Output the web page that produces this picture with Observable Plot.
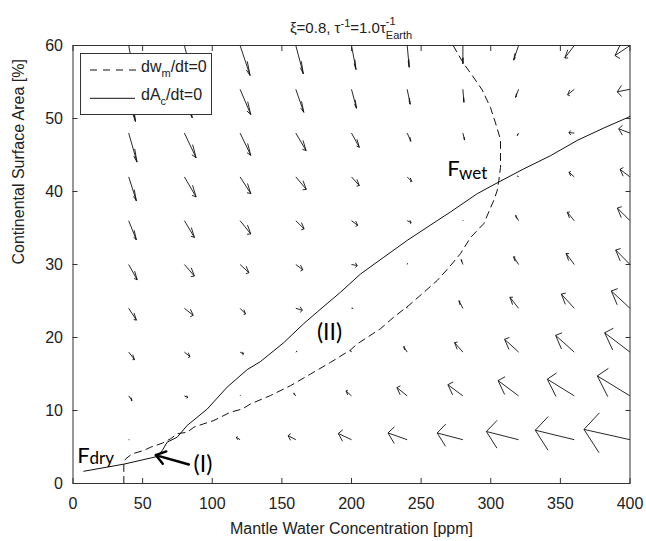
<!DOCTYPE html>
<html>
<head>
<meta charset="utf-8">
<script src="https://cdn.jsdelivr.net/npm/d3@7"></script>
<script src="https://cdn.jsdelivr.net/npm/@observablehq/plot@0.6"></script>
<style>
  html, body { margin: 0; padding: 0; background: #fff; }
  #wrap { position: relative; width: 646px; height: 541px; font-family: "Liberation Sans", Arial, Helvetica, sans-serif; color: #222; }
  #title { position: absolute; left: 72px; width: 558px; top: 19px; text-align: center; font-size: 15px; line-height: 18px; z-index: 2; }
  #title sup { font-size: 11px; vertical-align: 0; position: relative; top: -0.55em; }
  .stack { display: inline-block; position: relative; font-size: 11px; }
  .stack .up { position: absolute; left: 0; top: -0.75em; }
  .stack .down { position: relative; top: 0.5em; }
  #legend { position: absolute; left: 80px; top: 53px; z-index: 2; }
</style>
</head>
<body>
<div id="wrap">
  <div id="title">ξ=0.8, τ<sup>-1</sup>=1.0τ<span class="stack"><span class="up">-1</span><span class="down">Earth</span></span></div>
  <div id="chart"></div>
  <svg id="legend" width="133" height="63" font-family="Liberation Sans, Arial, sans-serif">
    <rect x="0.5" y="0.5" width="131" height="61" fill="#fff" stroke="#333"/>
    <line x1="10" x2="57" y1="17" y2="17" stroke="#111" stroke-dasharray="7,6"/>
    <text x="61" y="19" font-size="16" fill="#222">dw<tspan font-size="11" dy="5">m</tspan><tspan dy="-5">/dt=0</tspan></text>
    <line x1="10" x2="55" y1="45.3" y2="45.3" stroke="#111"/>
    <text x="61" y="47" font-size="16" fill="#222">dA<tspan font-size="11" dy="5">c</tspan><tspan dy="-5">/dt=0</tspan></text>
  </svg>
</div>
<script>
// ---- quiver grid (mantle water ppm, continental area %) ----
const gridX = [40, 80, 120, 160, 200, 240, 280, 320, 360, 400];
const gridY = [60, 54, 48, 42, 36, 30, 24, 18, 12, 6];
// x-components (ppm), one row per gridY value
const U = [
  [4.67, 5.74, 7.18, 5.39, 3.23, 1.44, 0, -3.59, -6.82, -10.77],
  [4.88, 5.60, 7.68, 5.74, 3.59, 2.15, 0.72, -2.15, -4.81, -9.12],
  [5.96, 8.40, 7.68, 7.40, 5.60, 2.66, 1.22, -0.93, -3.81, -8.11],
  [5.53, 8.40, 7.68, 7.54, 5.60, 3.23, 0.72, -0.72, -3.81, -7.18],
  [5.53, 7.18, 7.68, 5.96, 4.45, 2.87, 0.22, -2.15, -5.03, -9.12],
  [6.10, 7.18, 6.32, 5.03, 4.09, 0.22, -1.22, -3.59, -5.89, -10.27],
  [5.53, 6.32, 3.95, 4.67, 0.93, -0.36, -2.87, -6.25, -9.34, -13.43],
  [4.17, 4.02, 2.51, 0.72, -0.72, -2.51, -5.96, -10.05, -13.43, -18.17],
  [2.37, 2.37, 0.22, -1.44, -3.95, -7.40, -10.77, -14.72, -19.39, -23.48],
  [0.36, 0, -2.66, -5.53, -9.48, -13.79, -18.46, -23.12, -28.01, -33.03]
];
// y-components (%), one row per gridY value
const V = [
  [-4.66, -4.25, -4.11, -3.88, -3.29, -2.97, -2.51, -2.01, -1.71, -1.37],
  [-4.41, -3.90, -3.47, -3.15, -2.60, -2.05, -1.78, -1.10, -0.75, -0.34],
  [-3.97, -3.38, -3.05, -2.40, -1.95, -1.12, -0.96, -0.32, 0.07, 0.59],
  [-3.29, -2.74, -2.29, -1.71, -1.19, -0.62, -0.41, 0.14, 0.64, 1.03],
  [-2.64, -2.29, -1.82, -1.12, -0.64, -0.27, 0.07, 0.71, 1.16, 1.74],
  [-2.10, -1.58, -1.12, -0.73, -0.14, 0.14, 0.68, 1.07, 1.51, 1.99],
  [-1.62, -0.96, -0.78, -0.27, 0, 0.14, 1.03, 1.51, 1.96, 2.37],
  [-1.03, -0.62, -0.27, 0.10, 0.21, 0.75, 1.30, 1.75, 2.29, 2.64],
  [-0.62, -0.22, 0.07, 0.37, 0.68, 1.14, 1.53, 2.10, 2.29, 2.74],
  [-0.04, 0, 0.32, 0.55, 0.85, 0.93, 0.92, 1.12, 1.30, 1.41]
];

// ---- nullclines ----
const dwX = [36.5, 36.5, 38, 42.5, 50.8, 55.7, 64.1, 70, 74.8, 82, 86.8, 93.9, 101.1, 105.9, 113.1, 121.5, 127.5, 141.8, 156.2, 170.6, 185, 199.3, 204, 220.8, 230.4, 241.2, 250.8, 261.5, 270, 278.3, 285.5, 295, 298.6, 302.2, 304.6, 305.8, 307, 307, 303.4, 299.8, 293.9, 286.7, 280.6, 276, 273];
const dwY = [0, 3.0, 3.4, 4.07, 4.52, 4.97, 5.52, 6.12, 6.81, 7.03, 7.71, 8.18, 8.63, 9.08, 9.77, 10.2, 10.9, 12.05, 13.4, 15.0, 16.6, 18.3, 19.1, 21.2, 22.8, 24.4, 26.0, 27.8, 29.6, 31.5, 33.7, 35.6, 37.2, 38.8, 40.1, 41.5, 43.3, 47.1, 49.4, 51.5, 53.9, 55.9, 57.5, 59, 60];
const dAX = [7.8, 36.5, 60.5, 64.1, 67.6, 74.8, 82, 96.4, 110.7, 125.1, 134.6, 151.4, 165.7, 175.4, 192.1, 206.5, 223.2, 240, 261.5, 271.1, 290.3, 305.8, 323.7, 342.9, 362.1, 381.2, 398, 400];
const dAY = [1.68, 2.65, 3.7, 4.52, 5.66, 6.34, 7.95, 10.2, 13.2, 15.6, 16.7, 19.3, 21.9, 23.5, 26.2, 28.7, 31.0, 33.3, 36.0, 37.2, 39.7, 41.3, 43.1, 44.9, 47.0, 48.7, 50.1, 50.3];

// ---- axes ----
const xTicks = [0, 50, 100, 150, 200, 250, 300, 350, 400];
const yTicks = [0, 10, 20, 30, 40, 50, 60];
const xLabel = "Mantle Water Concentration [ppm]";
const yLabel = "Continental Surface Area [%]";

// ---- annotations (data coordinates) ----
const fixedPointLabels = [
  {text: "F", x: 3.0, y: 3.84, size: 22},
  {text: "dry", x: 11.9, y: 3.37, size: 17},
  {text: "F", x: 268.7, y: 43.15, size: 22},
  {text: "wet", x: 277.2, y: 42.5, size: 17}
];
const regionLabels = [
  {text: "(I)", x: 93.3, y: 2.6, size: 23},
  {text: "(II)", x: 184.2, y: 20.6, size: 23}
];
const pointer = [{x1: 83.2, y1: 2.6, x2: 59.4, y2: 3.9}];

// ---- derived tables ----
const alpha = 0.33, beta = 0.25; // MATLAB quiver arrow-head proportions
const arrows = [];
gridY.forEach((y, i) => gridX.forEach((x, j) => {
  const u = U[i][j], v = V[i][j];
  arrows.push({x, y, u, v, tx: x + u, ty: y + v});
}));
const wings = arrows.flatMap(d => [
  {x1: d.tx, y1: d.ty, x2: d.tx - alpha * (d.u + beta * d.v), y2: d.ty - alpha * (d.v - beta * d.u)},
  {x1: d.tx, y1: d.ty, x2: d.tx - alpha * (d.u - beta * d.v), y2: d.ty - alpha * (d.v + beta * d.u)}
]);
const dwLine = dwX.map((x, i) => ({x, y: dwY[i]}));
const dALine = dAX.map((x, i) => ({x, y: dAY[i]}));

const ink = "#111";
const labelFont = "Lato, 'DejaVu Sans', sans-serif";
const chart = Plot.plot({
  width: 646,
  height: 541,
  marginLeft: 72.5,
  marginRight: 16.5,
  marginTop: 45,
  marginBottom: 58,
  x: {domain: [0, 400]},
  y: {domain: [0, 60]},
  style: {fontFamily: "Liberation Sans, Arial, Helvetica, sans-serif", fontSize: "16px", color: "#222", background: "#fff", overflow: "visible"},
  marks: [
    Plot.link(arrows, {x1: "x", y1: "y", x2: "tx", y2: "ty", stroke: ink, strokeWidth: 0.9}),
    Plot.link(wings, {x1: "x1", y1: "y1", x2: "x2", y2: "y2", stroke: ink, strokeWidth: 0.9}),
    Plot.line(dALine, {x: "x", y: "y", stroke: ink, strokeWidth: 1}),
    Plot.line(dwLine, {x: "x", y: "y", stroke: ink, strokeWidth: 1, strokeDasharray: "7,5"}),
    Plot.arrow(pointer, {x1: "x1", y1: "y1", x2: "x2", y2: "y2", stroke: "#000", strokeWidth: 2.4, headLength: 7, headAngle: 70}),
    Plot.text(fixedPointLabels, {x: "x", y: "y", text: "text", textAnchor: "start", fontSize: "size", fontFamily: labelFont, fill: "#000", lineAnchor: "middle"}),
    Plot.text(regionLabels, {x: "x", y: "y", text: "text", textAnchor: "middle", fontSize: "size", fontFamily: labelFont, fill: "#000", lineAnchor: "middle"}),
    Plot.frame({stroke: "#333", strokeWidth: 1}),
    // inward ticks on all four sides
    Plot.axisX(xTicks, {anchor: "bottom", tickSize: -5, tickFormat: () => "", label: null, stroke: "#333"}),
    Plot.axisX(xTicks, {anchor: "top", tickSize: -5, tickFormat: () => "", label: null, stroke: "#333"}),
    Plot.axisY(yTicks, {anchor: "left", tickSize: -5, tickFormat: () => "", label: null, stroke: "#333"}),
    Plot.axisY(yTicks, {anchor: "right", tickSize: -5, tickFormat: () => "", label: null, stroke: "#333"}),
    // tick labels
    Plot.axisX(xTicks, {anchor: "bottom", tickSize: 0, tickPadding: 14, label: null, fontSize: 16}),
    Plot.axisY(yTicks, {anchor: "left", tickSize: 0, tickPadding: 10, label: null, fontSize: 16}),
    // axis titles
    Plot.text([xLabel], {frameAnchor: "bottom", dy: 45, lineAnchor: "middle", fontSize: 16, fill: "#222"}),
    Plot.text([yLabel], {frameAnchor: "left", dx: -54, rotate: -90, lineAnchor: "middle", fontSize: 16, fill: "#222"})
  ]
});
document.getElementById("chart").appendChild(chart);
</script>
</body>
</html>
